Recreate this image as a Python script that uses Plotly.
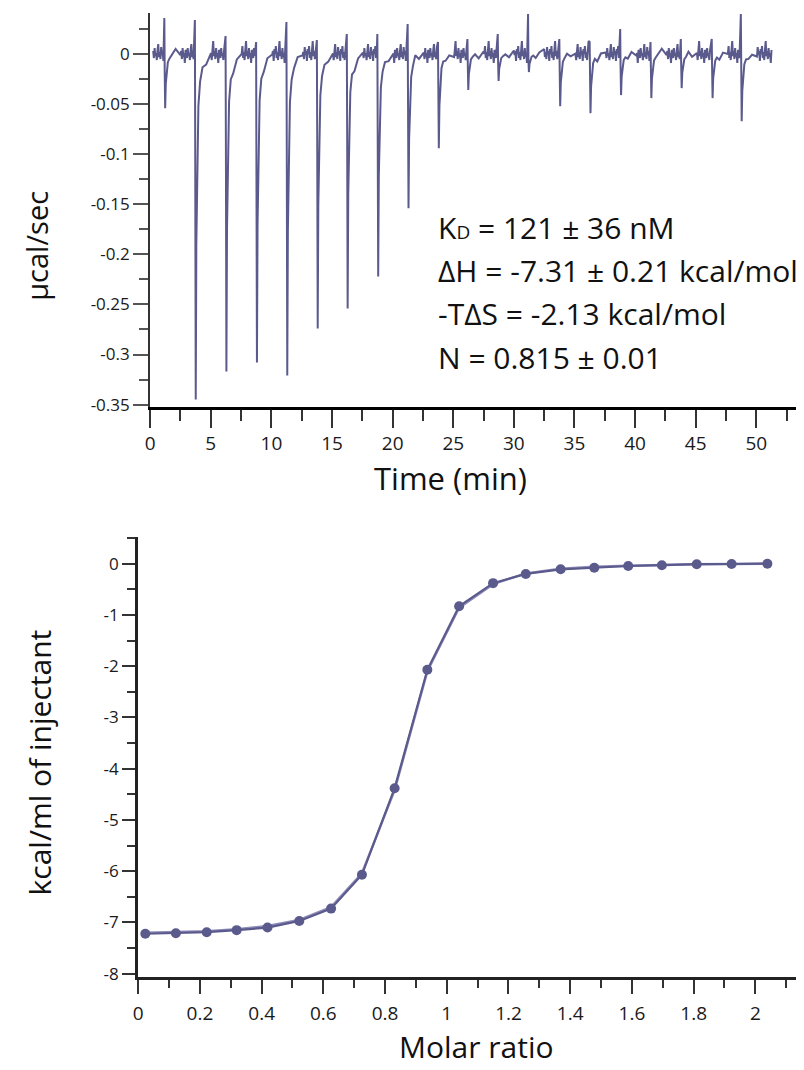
import plotly.graph_objects as go

W, H = 804, 1070
OFF = 8  # page body margin offset of the rendered figure
LINE = "#5b5a8c"

# ---------------- Top panel data (raw thermogram) ----------------
inj_time = [1.2, 3.72, 6.25, 8.77, 11.27, 13.78, 16.25, 18.77, 21.27, 23.77,
            26.2, 28.7, 31.2, 33.78, 36.28, 38.8, 41.3, 43.8, 46.35, 48.75]
peak_depth = [-0.054, -0.345, -0.317, -0.308, -0.321, -0.274, -0.254, -0.222, -0.154, -0.094,
              -0.036, -0.027, -0.018, -0.052, -0.059, -0.041, -0.044, -0.034, -0.044, -0.067]
spike_height = [0.036, 0.034, 0.018, 0.012, 0.032, 0.014, 0.020, 0.020, 0.030, 0.012,
                 0.015, 0.020, 0.040, 0.015, 0.012, 0.025, 0.012, 0.015, 0.015, 0.040]
# recovery shape read from the peaks: offset after injection (min), fraction of depth
prof_offset = [0.0, 0.04, 0.09, 0.16, 0.26, 0.4, 0.6, 0.9, 1.3]
prof_frac = [0.3, 1.0, 0.55, 0.3, 0.15, 0.08, 0.05, 0.025, 0.0]
# baseline wiggle values (µcal/sec)
wiggle = [0.003, -0.004, 0.006, -0.002, 0.001, -0.006, 0.004, 0.010, -0.003, 0.002,
          -0.005, 0.007, -0.001, 0.003, -0.007, 0.005, 0.000, 0.008, -0.004, 0.002,
          -0.006, 0.004, 0.013, -0.002, 0.003, -0.005, 0.006, -0.003, 0.001, -0.009, 0.004]
t_start, t_end = 0.25, 51.3

# ---------------- Bottom panel data (integrated heats) ----------------
molar_ratio = [0.023, 0.122, 0.222, 0.319, 0.419, 0.522, 0.625, 0.725, 0.831, 0.937,
               1.040, 1.150, 1.256, 1.369, 1.478, 1.588, 1.697, 1.810, 1.923, 2.039]
heat = [-7.22, -7.21, -7.19, -7.15, -7.10, -6.97, -6.73, -6.07, -4.38, -2.07,
        -0.83, -0.38, -0.20, -0.11, -0.08, -0.045, -0.03, -0.01, -0.006, 0.0]
fit_heat = [-7.20, -7.19, -7.17, -7.13, -7.07, -6.95, -6.70, -6.04, -4.42, -2.10,
            -0.86, -0.40, -0.19, -0.10, -0.06, -0.04, -0.02, -0.01, -0.005, 0.0]

top_xticks = [0, 5, 10, 15, 20, 25, 30, 35, 40, 45, 50]
top_yticks = [0, -0.05, -0.1, -0.15, -0.2, -0.25, -0.3, -0.35]
bot_xticks = [0, 0.2, 0.4, 0.6, 0.8, 1, 1.2, 1.4, 1.6, 1.8, 2]
bot_yticks = [0, -1, -2, -3, -4, -5, -6, -7, -8]

params = ["K<span style='font-size:19px'>D</span> = 121 ± 36 nM",
          "ΔH = -7.31 ± 0.21 kcal/mol",
          "-TΔS = -2.13 kcal/mol",
          "N = 0.815 ± 0.01"]
param_y = [229, 273, 316, 360]


def fx(px):
    return (px - OFF) / W


def fy(py):
    return 1 - (py - OFF) / H


# ---------------- Build thermogram trace from the arrays ----------------
tx, ty = [], []
k = 0


def add_baseline(a, b):
    global k
    t = a
    while t < b:
        tx.append(t)
        ty.append(wiggle[k % len(wiggle)])
        k += 1
        t += 0.06


prev = t_start
for ti, d, s in zip(inj_time, peak_depth, spike_height):
    add_baseline(prev, ti - 0.08)
    tx.append(ti - 0.03); ty.append(s)
    for off, fr in zip(prof_offset, prof_frac):
        tx.append(ti + off)
        ty.append(d * fr + (wiggle[k % len(wiggle)] * 0.5 if off > 0.5 else 0))
        k += 1
    prev = ti + prof_offset[-1] + 0.06
add_baseline(prev, t_end)

fig = go.Figure()
fig.add_trace(go.Scatter(x=tx, y=ty, mode="lines", line=dict(color=LINE, width=2),
                         xaxis="x", yaxis="y", showlegend=False, hoverinfo="skip"))
fig.add_trace(go.Scatter(x=molar_ratio, y=fit_heat, mode="lines",
                         line=dict(color="#8e8cb8", width=2.4),
                         xaxis="x2", yaxis="y2", showlegend=False))
fig.add_trace(go.Scatter(x=molar_ratio, y=heat, mode="lines+markers",
                         line=dict(color=LINE, width=2.2),
                         marker=dict(color=LINE, size=10),
                         xaxis="x2", yaxis="y2", showlegend=False))

YTICKFONT = dict(family="Open Sans", size=17, color="#1a1a1a")
XTICKFONT = dict(family="Open Sans", size=19, color="#1a1a1a")


def fmt(v):
    return "%g" % v


top_left, bot_left = 146, 134
top_px_per_min = 12.2
bot_px_per_unit = 310.5
right_px = W + OFF  # right end of the figure in window pixels

fig.update_layout(
    width=W, height=H, margin=dict(l=0, r=0, t=0, b=0),
    paper_bgcolor="white", plot_bgcolor="white",
    xaxis=dict(domain=[fx(top_left), 1.0], anchor="y",
               range=[0, (right_px - top_left) / top_px_per_min],
               showgrid=False, zeroline=False, showline=True, linecolor="black", linewidth=3,
               ticks="outside", ticklen=18, tickwidth=1.5, tickcolor="#333",
               tickmode="array", tickvals=top_xticks, ticktext=[fmt(v) for v in top_xticks],
               tickfont=XTICKFONT,
               minor=dict(ticks="outside", ticklen=11, tickwidth=1.5, tickcolor="#333",
                          tickmode="linear", tick0=2.5, dtick=5)),
    yaxis=dict(domain=[fy(410), fy(13)], anchor="x", range=[-0.352, 0.041],
               showgrid=False, zeroline=False, showline=True, linecolor="#333", linewidth=2,
               ticks="outside", ticklen=15, tickwidth=1.5, tickcolor="#555",
               tickmode="array", tickvals=top_yticks, ticktext=[fmt(v) for v in top_yticks],
               tickfont=YTICKFONT,
               minor=dict(ticks="outside", ticklen=9, tickwidth=1.5, tickcolor="#555",
                          tickmode="linear", tick0=0.025, dtick=0.05)),
    xaxis2=dict(domain=[fx(bot_left), 1.0], anchor="y2",
                range=[0, (right_px - bot_left) / bot_px_per_unit],
                showgrid=False, zeroline=False, showline=True, linecolor="#222", linewidth=3,
                ticks="outside", ticklen=14, tickwidth=1.5, tickcolor="#333",
                tickmode="array", tickvals=bot_xticks, ticktext=[fmt(v) for v in bot_xticks],
                tickfont=XTICKFONT, ticklabelstandoff=3,
                minor=dict(ticks="outside", ticklen=8, tickwidth=1.5, tickcolor="#333",
                           tickmode="linear", tick0=0.1, dtick=0.2)),
    yaxis2=dict(domain=[fy(985), fy(541)], anchor="x2", range=[-8.06, 0.53],
                showgrid=False, zeroline=False, showline=True, linecolor="#222", linewidth=3,
                ticks="outside", ticklen=13, tickwidth=1.5, tickcolor="#333",
                tickmode="array", tickvals=bot_yticks, ticktext=[fmt(v) for v in bot_yticks],
                tickfont=YTICKFONT,
                minor=dict(ticks="outside", ticklen=8, tickwidth=1.5, tickcolor="#333",
                           tickmode="linear", tick0=0.5, dtick=1)),
)

ann = [
    dict(text="µcal/sec", x=fx(32), y=fy(248), textangle=-90,
         font=dict(family="Open Sans", size=29, color="#111")),
    dict(text="Time (min)", x=fx(448), y=fy(482),
         font=dict(family="Open Sans", size=31, color="#111")),
    dict(text="kcal/ml of injectant", x=fx(35), y=fy(769), textangle=-90,
         font=dict(family="Open Sans", size=30, color="#111")),
    dict(text="Molar ratio", x=fx(474), y=fy(1055),
         font=dict(family="Open Sans", size=30, color="#111")),
]
for p, yy in zip(params, param_y):
    ann.append(dict(text=p, x=fx(434), y=fy(yy), xanchor="left",
                    font=dict(family="Open Sans", size=30, color="#111")))
for a in ann:
    a.setdefault("xanchor", "center")
    fig.add_annotation(xref="paper", yref="paper", showarrow=False, yanchor="middle", **a)

fig.write_html("out.html")
